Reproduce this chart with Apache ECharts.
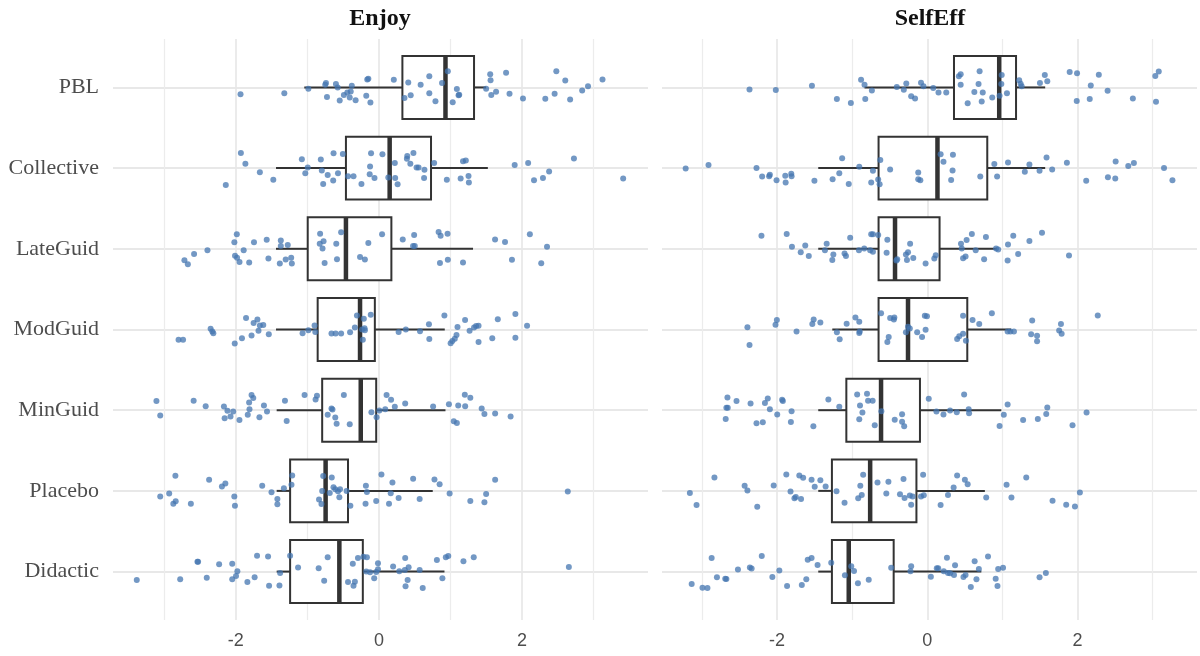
<!DOCTYPE html>
<html>
<head>
<meta charset="utf-8">
<script src="https://cdn.jsdelivr.net/npm/echarts@6/dist/echarts.min.js"></script>
<style>
  html, body { margin: 0; padding: 0; background: #fff; }
  #main { width: 1200px; height: 656px; }
</style>
</head>
<body>
<div id="main"></div>
<script>
// groups, bottom to top (y position 1..7)
var groups = ['Didactic', 'Placebo', 'MinGuid', 'ModGuid', 'LateGuid', 'Collective', 'PBL'];
var panels = ['Enjoy', 'SelfEff'];

// boxplot stats per group: [lower whisker, q1, median, q3, upper whisker]
var enjoyStats = [
    [-1.430, -1.242, -0.554, -0.226, 0.915],
    [-1.430, -1.242, -0.746, -0.433, 0.751],
    [-1.430, -0.794, -0.255, -0.039, 0.929],
    [-1.439, -0.857, -0.265, -0.058, 0.919],
    [-1.439, -0.996, -0.462, 0.173, 1.314],
    [-1.439, -0.462, 0.149, 0.727, 1.521],
    [-1.044, 0.327, 0.929, 1.328, 1.497]
];
var selfEffStats = [
    [-1.452, -1.270, -1.046, -0.448, 0.719],
    [-1.452, -1.270, -0.761, -0.145, 0.766],
    [-1.452, -1.078, -0.616, -0.098, 0.985],
    [-1.265, -0.649, -0.257, 0.532, 1.116],
    [-1.452, -0.649, -0.430, 0.163, 0.929],
    [-1.452, -0.649, 0.135, 0.798, 1.569],
    [-0.836, 0.355, 0.957, 1.181, 1.569]
];

// jittered points: [value, vertical jitter]
var enjoyPBL = [[-1.935,-0.085],[-1.323,-0.073],[-0.987,-0.017],[-0.741,0.055],[-0.751,0.034],[-0.602,0.043],[-0.577,0],[-0.380,0.021],[-0.443,-0.064],[-0.395,-0.051],[-0.491,-0.094],[-0.549,-0.162],[-0.727,-0.119],[-0.409,-0.124],[-0.327,-0.158],[-0.178,-0.102],[-0.120,-0.188],[-0.164,0.098],[-0.149,0.107],[0.207,0.094],[0.409,0.060],[0.356,-0.132],[0.443,-0.098],[0.582,0.034],[0.703,0.137],[0.703,-0.073],[0.789,-0.171],[0.881,0.055],[0.962,0.201],[1.088,-0.021],[1.112,-0.098],[1.121,-0.090],[1.030,-0.183],[1.497,-0.017],[1.554,0.162],[1.559,0.090],[1.569,-0.094],[1.636,-0.055],[1.776,0.183],[1.824,-0.077],[2.012,-0.137],[2.324,-0.141],[2.454,-0.077],[2.478,0.201],[2.603,0.085],[2.671,-0.149],[2.839,-0.038],[2.921,0.013],[3.123,0.098]];
var enjoyCollective = [[-1.930,0.188],[-1.867,0.055],[-1.665,-0.051],[-1.477,-0.145],[-2.141,-0.209],[-1.078,0.111],[-0.996,0.009],[-1.030,-0.064],[-0.799,-0.030],[-0.813,0.107],[-0.717,-0.085],[-0.635,0.183],[-0.505,0.175],[-0.573,-0.064],[-0.640,-0.154],[-0.780,-0.196],[-0.433,-0.102],[-0.356,-0.102],[-0.245,-0.196],[-0.125,0.021],[-0.111,0.183],[-0.130,-0.077],[-0.063,-0.124],[0.048,0.171],[0.130,-0.115],[0.221,0.064],[0.226,-0.124],[0.260,-0.201],[0.395,0.149],[0.390,0.115],[0.481,0.188],[0.438,0.055],[0.525,0.009],[0.553,0.009],[0.635,-0.021],[0.630,-0.124],[0.770,0.064],[0.948,-0.145],[1.141,-0.128],[1.174,0.085],[1.213,0.094],[1.251,-0.098],[1.256,-0.179],[1.896,0.038],[2.084,0.064],[2.166,-0.149],[2.291,-0.124],[2.377,-0.043],[2.724,0.119],[3.412,-0.128]];
var enjoyLateGuid = [[-2.719,-0.141],[-2.671,-0.192],[-2.584,-0.064],[-2.397,-0.017],[-2.021,0.081],[-1.987,0.179],[-2.012,-0.085],[-1.983,-0.111],[-1.949,-0.162],[-1.891,-0.017],[-1.814,-0.171],[-1.747,0.081],[-1.569,0.111],[-1.545,-0.119],[-1.372,0.102],[-1.372,0.034],[-1.275,0.047],[-1.386,-0.183],[-1.304,-0.132],[-1.227,-0.111],[-1.218,-0.183],[-0.823,0.188],[-0.775,0.094],[-0.828,0.064],[-0.789,0.004],[-0.760,-0.175],[-0.597,0.064],[-0.587,-0.128],[-0.529,0.205],[-0.265,-0.102],[-0.197,-0.132],[-0.149,0.073],[0.043,0.179],[0.332,0.115],[0.491,0.171],[0.476,0.034],[0.500,0.034],[0.833,0.209],[0.861,0.162],[0.958,0.188],[0.852,-0.175],[0.962,-0.137],[1.174,-0.171],[1.622,0.115],[1.761,0.085],[1.858,-0.137],[2.108,0.179],[2.267,-0.179],[2.348,0.026]];
var enjoyModGuid = [[-2.801,-0.128],[-2.738,-0.128],[-2.353,0.009],[-2.329,-0.026],[-2.315,-0.047],[-2.016,-0.175],[-1.915,-0.107],[-1.858,0.141],[-1.781,-0.073],[-1.752,0.081],[-1.699,0.124],[-1.684,-0.017],[-1.665,0.051],[-1.617,0.055],[-1.540,-0.060],[-1.068,-0.047],[-0.987,-0.009],[-0.900,0.051],[-0.890,-0.030],[-0.664,-0.051],[-0.606,-0.051],[-0.529,-0.051],[-0.404,-0.034],[-0.337,0.026],[-0.308,0.175],[-0.236,0],[-0.212,0.132],[-0.202,0.017],[-0.197,-0.009],[-0.226,-0.128],[-0.115,0.183],[0.274,-0.030],[0.375,0],[0.573,-0.021],[0.698,0.064],[0.703,-0.119],[0.914,0.175],[1.001,-0.171],[1.025,-0.141],[1.059,-0.115],[1.083,-0.068],[1.097,0.030],[1.203,0.119],[1.266,-0.017],[1.328,0.026],[1.357,0.043],[1.391,0.047],[1.391,-0.154],[1.583,-0.107],[1.660,0.128],[1.906,0.192],[1.906,-0.102],[2.069,0.047]];
var enjoyMinGuid = [[-3.110,0.113],[-3.057,-0.067],[-2.590,0.117],[-2.422,0.050],[-2.167,0.046],[-2.118,-0.008],[-2.037,-0.017],[-2.157,-0.100],[-2.075,-0.079],[-1.950,-0.121],[-1.834,-0.058],[-1.810,0.013],[-1.815,0.096],[-1.781,0.188],[-1.757,0.150],[-1.671,-0.088],[-1.608,0.058],[-1.565,-0.017],[-1.314,0.117],[-1.290,-0.133],[-1.040,0.188],[-0.886,0.133],[-0.867,0.179],[-0.717,-0.058],[-0.664,0.021],[-0.650,0.008],[-0.611,-0.092],[-0.592,-0.167],[-0.491,0.188],[-0.409,-0.175],[-0.106,-0.025],[-0.034,-0.088],[0.005,-0.004],[0.087,0.013],[0.106,0.188],[0.169,0.129],[0.221,0.042],[0.366,0.083],[0.756,0.046],[0.977,0.075],[1.045,-0.138],[1.088,-0.158],[1.107,0.058],[1.199,0.192],[1.204,0.050],[1.276,0.154],[1.435,0.021],[1.473,-0.046],[1.623,-0.042],[1.839,-0.079]];
var enjoyPlacebo = [[-3.057,-0.071],[-2.932,-0.033],[-2.845,0.188],[-2.874,-0.158],[-2.841,-0.129],[-2.629,-0.158],[-2.374,0.138],[-2.195,0.054],[-2.147,0.092],[-2.022,-0.071],[-2.013,-0.183],[-1.632,0.063],[-1.502,-0.017],[-1.420,-0.100],[-1.420,-0.167],[-1.329,0.033],[-1.213,0.192],[-1.223,0.075],[-0.838,-0.108],[-0.804,-0.163],[-0.794,0],[-0.780,0.183],[-0.660,0.167],[-0.636,0.046],[-0.611,0.021],[-0.688,-0.025],[-0.554,-0.079],[-0.573,-0.004],[-0.544,0.021],[-0.453,0],[-0.400,-0.183],[-0.183,0.063],[-0.169,-0.013],[-0.188,-0.158],[-0.039,-0.125],[0.034,0.204],[0.140,-0.158],[0.164,-0.029],[0.188,0.104],[0.274,-0.088],[0.477,0.150],[0.568,-0.100],[0.775,0.142],[0.847,0.083],[0.987,-0.033],[1.276,-0.125],[1.473,-0.142],[1.497,-0.038],[1.623,0.138],[2.638,-0.008]];
var enjoyDidactic = [[-3.385,-0.104],[-2.778,-0.096],[-2.537,0.121],[-2.528,0.121],[-2.407,-0.075],[-2.234,0.092],[-2.051,0.096],[-1.979,0.004],[-1.998,-0.054],[-2.051,-0.096],[-1.839,-0.129],[-1.738,-0.071],[-1.704,0.196],[-1.550,0.188],[-1.536,-0.175],[-1.391,-0.171],[-1.382,-0.017],[-1.242,0.196],[-1.131,0.050],[-0.843,0.042],[-0.766,-0.113],[-0.717,0.179],[-0.433,-0.129],[-0.366,0.096],[-0.337,-0.125],[-0.356,-0.175],[-0.294,0.167],[-0.217,0.183],[-0.169,0.179],[-0.178,0],[-0.125,-0.008],[-0.039,-0.004],[-0.014,0.104],[-0.067,-0.083],[-0.014,0.029],[0.197,0.063],[0.284,0.004],[0.366,0.167],[0.361,0.021],[0.414,0.054],[0.400,-0.104],[0.371,-0.183],[0.568,0.021],[0.611,-0.204],[0.809,0.142],[0.886,-0.083],[0.934,0.179],[0.968,0.192],[1.180,0.129],[1.324,0.179],[2.653,0.058]];

var selfEffPBL = [[-2.367,-0.025],[-2.017,-0.033],[-1.536,0.021],[-1.204,-0.142],[-1.018,-0.192],[-0.882,0.096],[-0.836,0.033],[-0.826,-0.142],[-0.738,-0.038],[-0.406,0.004],[-0.313,-0.029],[-0.280,0.050],[-0.215,-0.108],[-0.163,-0.138],[-0.084,0.058],[-0.051,0.013],[0.079,-0.008],[0.149,-0.063],[0.252,-0.063],[0.420,0.138],[0.444,0.163],[0.444,0.033],[0.537,-0.196],[0.626,-0.058],[0.682,0.042],[0.696,0.200],[0.724,-0.175],[0.738,-0.063],[0.864,-0.125],[0.962,-0.104],[0.990,0.154],[0.985,0.042],[1.060,-0.071],[1.223,0.088],[1.242,0.046],[1.256,0.013],[1.499,0.054],[1.564,0.154],[1.597,0.075],[1.895,0.192],[1.993,0.175],[1.989,-0.167],[2.162,-0.142],[2.176,0.025],[2.283,0.158],[2.400,-0.042],[2.736,-0.138],[3.035,0.142],[3.081,0.196],[3.044,-0.179]];
var selfEffCollective = [[-3.217,-0.004],[-2.913,0.038],[-2.274,0],[-2.199,-0.104],[-2.106,-0.100],[-2.096,-0.083],[-2.007,-0.150],[-1.886,-0.179],[-1.891,-0.096],[-1.811,-0.071],[-1.807,-0.100],[-1.503,-0.158],[-1.261,-0.138],[-1.172,-0.063],[-1.134,0.121],[-1.046,-0.196],[-0.906,0.017],[-0.747,-0.179],[-0.724,-0.033],[-0.654,-0.142],[-0.635,-0.200],[-0.626,0.100],[-0.495,-0.017],[-0.121,-0.054],[-0.121,-0.138],[-0.093,-0.150],[0.177,0.171],[0.215,0.079],[0.341,0.167],[0.336,-0.029],[0.317,-0.146],[0.705,-0.104],[0.892,0.050],[0.929,-0.104],[1.074,0.071],[1.298,-0.046],[1.359,0.046],[1.494,-0.033],[1.587,0.133],[1.662,-0.017],[1.858,0.067],[2.115,-0.158],[2.404,-0.113],[2.507,0.083],[2.502,-0.129],[2.675,0.025],[2.750,0.063],[3.151,0],[3.263,-0.150]];
var selfEffLateGuid = [[-2.208,0.163],[-1.872,0.183],[-1.802,0.025],[-1.685,-0.042],[-1.625,0.042],[-1.578,-0.088],[-1.340,0.063],[-1.363,-0.017],[-1.265,-0.138],[-1.251,-0.071],[-1.102,-0.058],[-1.083,-0.088],[-1.027,0.138],[-0.910,-0.017],[-0.840,0.004],[-0.747,0.179],[-0.724,0.179],[-0.761,-0.017],[-0.724,-0.038],[-0.654,0.171],[-0.532,0.113],[-0.542,-0.050],[-0.401,-0.129],[-0.411,-0.146],[-0.271,-0.138],[-0.285,-0.071],[-0.257,-0.042],[-0.229,0.063],[-0.187,-0.113],[-0.023,-0.183],[0.093,-0.121],[0.112,-0.079],[0.448,0.063],[0.458,0.004],[0.476,-0.117],[0.509,-0.096],[0.523,0.108],[0.593,0.183],[0.644,-0.017],[0.756,-0.129],[0.780,0.146],[0.915,0.004],[0.943,-0.008],[1.074,0.054],[1.069,-0.146],[1.144,0.163],[1.209,-0.063],[1.359,0.096],[1.527,0.200],[1.886,-0.083]];
var selfEffModGuid = [[-2.395,0.029],[-2.367,-0.192],[-2.021,0.058],[-2.003,0.117],[-1.741,-0.025],[-1.531,0.067],[-1.513,0.125],[-1.424,0.088],[-1.204,-0.033],[-1.167,-0.121],[-1.074,0.071],[-0.957,0.150],[-0.906,0.096],[-0.906,-0.042],[-0.900,-0.025],[-0.616,0.200],[-0.514,-0.092],[-0.532,-0.154],[-0.495,0.142],[-0.439,0.150],[-0.445,0.125],[-0.285,-0.033],[-0.257,0.033],[-0.233,0.013],[-0.135,-0.033],[-0.070,-0.092],[-0.033,0.171],[-0.005,0.163],[-0.023,-0.004],[0.397,-0.117],[0.425,-0.083],[0.476,-0.054],[0.514,-0.138],[0.476,0.171],[0.602,0.117],[0.691,0.067],[0.859,0.200],[1.069,-0.025],[1.106,-0.025],[1.153,-0.025],[1.382,-0.058],[1.396,0.113],[1.461,-0.079],[1.461,-0.146],[1.755,-0.013],[1.779,0.067],[1.788,-0.054],[2.269,0.175]];
var selfEffMinGuid = [[-2.684,-0.108],[-2.661,0.158],[-2.675,0.029],[-2.657,0.029],[-2.540,0.113],[-2.353,0.083],[-2.274,-0.163],[-2.190,-0.150],[-2.162,0.088],[-2.124,0.146],[-2.096,0.013],[-1.998,-0.054],[-1.933,0.129],[-1.923,0.113],[-1.816,-0.146],[-1.807,-0.013],[-1.517,-0.200],[-1.317,0.133],[-1.172,0.042],[-0.934,0.196],[-0.906,-0.113],[-0.896,0.058],[-0.864,-0.029],[-0.803,0.204],[-0.789,0.117],[-0.728,0.117],[-0.700,-0.188],[-0.612,-0.013],[-0.434,-0.117],[-0.336,-0.050],[-0.336,-0.142],[-0.308,-0.200],[0.019,0.142],[0.121,-0.017],[0.215,-0.054],[0.303,-0.004],[0.392,-0.025],[0.490,0.196],[0.551,0.013],[0.556,-0.038],[0.962,-0.196],[1.018,-0.058],[1.069,0.071],[1.275,-0.121],[1.471,-0.108],[1.583,-0.046],[1.597,0.033],[1.933,-0.188],[2.120,-0.029]];
var selfEffPlacebo = [[-3.161,-0.025],[-3.072,-0.175],[-2.834,0.167],[-2.432,0.063],[-2.395,0.004],[-2.264,-0.196],[-2.045,0.067],[-1.877,0.204],[-1.821,-0.008],[-1.769,-0.092],[-1.751,-0.075],[-1.704,0.192],[-1.681,-0.100],[-1.653,0.163],[-1.541,0.138],[-1.499,0.050],[-1.424,0.133],[-1.354,0.054],[-1.209,-0.004],[-1.102,-0.146],[-0.920,-0.092],[-0.892,0.063],[-0.873,-0.050],[-0.854,0.200],[-0.663,0.104],[-0.546,-0.033],[-0.518,0.113],[-0.364,-0.042],[-0.317,0.146],[-0.303,-0.088],[-0.233,-0.058],[-0.215,-0.171],[-0.196,-0.071],[-0.084,-0.071],[-0.056,0.200],[-0.047,-0.054],[0.177,-0.175],[0.275,-0.050],[0.350,0.042],[0.397,0.192],[0.500,0.138],[0.537,0.083],[0.784,-0.083],[1.055,0.075],[1.120,-0.083],[1.317,0.167],[1.667,-0.121],[1.849,-0.171],[1.965,-0.192],[2.031,-0.021]];
var selfEffDidactic = [[-3.137,-0.154],[-2.993,-0.200],[-2.927,-0.204],[-2.871,0.167],[-2.801,-0.071],[-2.675,-0.092],[-2.690,-0.088],[-2.521,0.025],[-2.362,0.050],[-2.339,0.038],[-2.204,0.192],[-2.063,-0.067],[-1.970,0.013],[-1.867,-0.179],[-1.671,-0.167],[-1.611,-0.096],[-1.592,0.146],[-1.541,0.167],[-1.461,0.083],[-1.279,0.108],[-1.097,-0.046],[-1.013,0.067],[-0.976,0.008],[-0.924,-0.146],[-0.780,-0.100],[-0.481,0.046],[-0.224,0.004],[-0.215,0.067],[0.047,-0.063],[0.126,0.042],[0.145,0.042],[0.219,0.004],[0.261,0.171],[0.275,-0.017],[0.303,-0.021],[0.369,0.079],[0.355,-0.042],[0.481,-0.067],[0.509,-0.042],[0.579,-0.192],[0.630,0.129],[0.654,-0.096],[0.686,0.033],[0.808,0.188],[0.910,-0.088],[0.934,-0.179],[0.943,0.033],[1.008,0.046],[1.494,-0.071],[1.578,-0.017]];

var enjoyPoints = [enjoyDidactic, enjoyPlacebo, enjoyMinGuid, enjoyModGuid, enjoyLateGuid, enjoyCollective, enjoyPBL];
var selfEffPoints = [selfEffDidactic, selfEffPlacebo, selfEffMinGuid, selfEffModGuid, selfEffLateGuid, selfEffCollective, selfEffPBL];

var xMajor = [-2, 0, 2];
var xMinor = [-3, -1, 1, 3];
var yTicks = [1, 2, 3, 4, 5, 6, 7];

var myChart = echarts.init(document.getElementById('main'));

var BOX_HALF = 0.39;
var BOX_COLOR = '#333333';

function renderBox(params, api) {
    var y = api.value(0);
    var lo = api.value(1), q1 = api.value(2), med = api.value(3), q3 = api.value(4), hi = api.value(5);
    var tl = api.coord([q1, y + BOX_HALF]);
    var br = api.coord([q3, y - BOX_HALF]);
    var pLo = api.coord([lo, y]), pQ1 = api.coord([q1, y]);
    var pQ3 = api.coord([q3, y]), pHi = api.coord([hi, y]);
    var mTop = api.coord([med, y + BOX_HALF]), mBot = api.coord([med, y - BOX_HALF]);
    var st = { stroke: BOX_COLOR, lineWidth: 2, fill: null };
    return {
        type: 'group',
        children: [
            { type: 'line', shape: { x1: pLo[0], y1: pLo[1], x2: pQ1[0], y2: pQ1[1] }, style: st },
            { type: 'line', shape: { x1: pQ3[0], y1: pQ3[1], x2: pHi[0], y2: pHi[1] }, style: st },
            { type: 'rect', shape: { x: tl[0], y: tl[1], width: br[0] - tl[0], height: br[1] - tl[1] },
              style: { fill: '#ffffff', stroke: BOX_COLOR, lineWidth: 2 } },
            { type: 'line', shape: { x1: mTop[0], y1: mTop[1], x2: mBot[0], y2: mBot[1] },
              style: { stroke: BOX_COLOR, lineWidth: 4.5 } }
        ]
    };
}

function boxData(stats) {
    return stats.map(function (s, i) {
        return [i + 1].concat(s);
    });
}

function pointData(list) {
    var out = [];
    list.forEach(function (pts, i) {
        pts.forEach(function (p) {
            out.push([p[0], i + 1 + p[1]]);
        });
    });
    return out;
}

function xAxisPair(gridIndex, min, max) {
    return [
        {
            type: 'value', gridIndex: gridIndex, min: min, max: max,
            axisLine: { show: false },
            axisTick: { show: false, customValues: xMajor },
            axisLabel: {
                customValues: xMajor, margin: 12,
                color: '#4d4d4d', fontSize: 18, fontFamily: 'Liberation Sans',
                formatter: function (v) { return v < 0 ? '-' + Math.abs(v) : String(v); }
            },
            splitLine: { show: true, lineStyle: { color: '#e6e6e6', width: 1.6 } }
        },
        {
            type: 'value', gridIndex: gridIndex, min: min, max: max,
            axisLine: { show: false },
            axisTick: { show: false, customValues: xMinor },
            axisLabel: { show: false, customValues: xMinor },
            splitLine: { show: true, lineStyle: { color: '#ececec', width: 1.2 } }
        }
    ];
}

function yAxisFor(gridIndex, showLabels) {
    return {
        type: 'value', gridIndex: gridIndex, min: 0.4, max: 7.6,
        axisLine: { show: false },
        axisTick: { show: false, customValues: yTicks },
        axisLabel: {
            show: showLabels, customValues: yTicks, margin: 14,
            color: '#4d4d4d', fontSize: 22, fontFamily: 'Liberation Serif',
            formatter: function (v) { return groups[Math.round(v) - 1]; }
        },
        splitLine: { show: true, lineStyle: { color: '#e8e8e8', width: 2 } }
    };
}

var pointStyle = { color: '#4476b0', opacity: 0.75 };

var option = {
    backgroundColor: '#ffffff',
    animation: false,
    graphic: [
        { type: 'text', x: 380, y: 19, style: { text: panels[0], textAlign: 'center', textVerticalAlign: 'middle',
          font: 'bold 24px "Liberation Serif"', fill: '#111' } },
        { type: 'text', x: 930, y: 19, style: { text: panels[1], textAlign: 'center', textVerticalAlign: 'middle',
          font: 'bold 24px "Liberation Serif"', fill: '#111' } }
    ],
    grid: [
        { left: 113, right: 552, top: 39, bottom: 36 },
        { left: 662, right: 3, top: 39, bottom: 36 }
    ],
    xAxis: xAxisPair(0, -3.717, 3.759).concat(xAxisPair(1, -3.532, 3.590)),
    yAxis: [yAxisFor(0, true), yAxisFor(1, false)],
    series: [
        {
            name: panels[0] + ' box', type: 'custom', xAxisIndex: 0, yAxisIndex: 0,
            renderItem: renderBox, data: boxData(enjoyStats),
            encode: { x: [1, 2, 3, 4, 5], y: 0 }, z: 2
        },
        {
            name: panels[1] + ' box', type: 'custom', xAxisIndex: 2, yAxisIndex: 1,
            renderItem: renderBox, data: boxData(selfEffStats),
            encode: { x: [1, 2, 3, 4, 5], y: 0 }, z: 2
        },
        {
            name: panels[0], type: 'scatter', xAxisIndex: 0, yAxisIndex: 0,
            symbolSize: 6, itemStyle: pointStyle, data: pointData(enjoyPoints), z: 3
        },
        {
            name: panels[1], type: 'scatter', xAxisIndex: 2, yAxisIndex: 1,
            symbolSize: 6, itemStyle: pointStyle, data: pointData(selfEffPoints), z: 3
        }
    ]
};

option && myChart.setOption(option);
</script>
</body>
</html>
